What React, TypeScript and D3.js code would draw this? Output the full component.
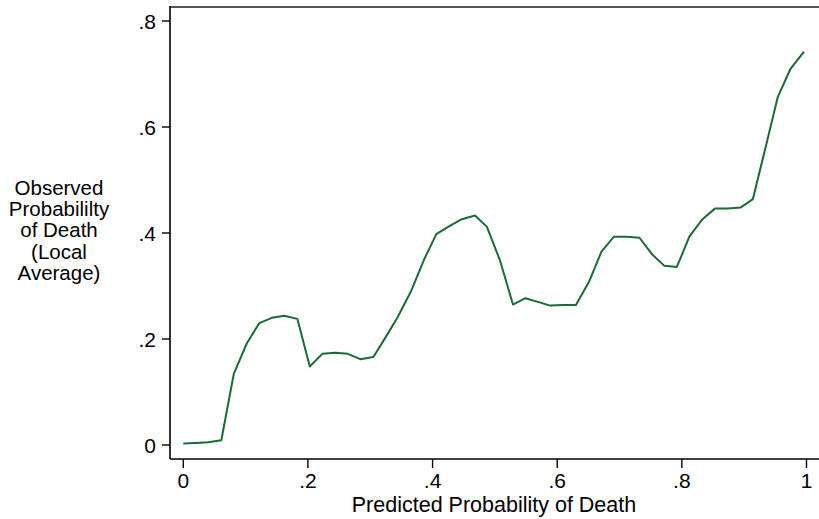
import React from "react";
import * as d3 from "d3";

const predicted = [
  0.0, 0.02, 0.04, 0.061, 0.081, 0.102, 0.122, 0.142, 0.162, 0.183,
  0.203, 0.223, 0.244, 0.264, 0.284, 0.305, 0.325, 0.343, 0.365, 0.386,
  0.406, 0.427, 0.447, 0.468, 0.487, 0.508, 0.529, 0.549, 0.569, 0.589,
  0.609, 0.63, 0.651, 0.671, 0.691, 0.711, 0.732, 0.752, 0.772, 0.792,
  0.812, 0.833, 0.853, 0.874, 0.894, 0.914, 0.934, 0.954, 0.974, 0.996,
];
const observed = [
  0.003, 0.004, 0.005, 0.009, 0.134, 0.192, 0.23, 0.24, 0.244, 0.238,
  0.148, 0.172, 0.174, 0.172, 0.162, 0.166, 0.204, 0.239, 0.289, 0.349,
  0.398, 0.413, 0.426, 0.433, 0.412, 0.349, 0.265, 0.277, 0.27, 0.263,
  0.264, 0.264, 0.308, 0.365, 0.393, 0.393, 0.391, 0.36, 0.338, 0.336,
  0.393, 0.426, 0.446, 0.446, 0.448, 0.464, 0.56, 0.657, 0.709, 0.742,
];
const xTicks = [0, 0.2, 0.4, 0.6, 0.8, 1];
const yTicks = [0, 0.2, 0.4, 0.6, 0.8];
const yTitleLines = ["Observed", "Probabililty", "of Death", "(Local", "Average)"];
const xTitle = "Predicted Probability of Death";

const fmt = (v: number) => (v === 0 ? "0" : v === 1 ? "1" : d3.format(".1f")(v).replace(/^0/, ""));

export default function App() {
  const W = 819, H = 519;
  const frameL = 170, frameR = 820, frameT = 7, frameB = 459;
  const x = d3.scaleLinear().domain([0, 1]).range([183.3, 806.5]);
  const y = d3.scaleLinear().domain([0, 0.8]).range([445, 21]);
  const pts: [number, number][] = predicted.map((p, i) => [p, observed[i]]);
  const line = d3.line<[number, number]>().x(d => x(d[0])).y(d => y(d[1]));
  const font = "'Liberation Sans', Arial, Helvetica, sans-serif";
  return (
    <svg width={W} height={H} style={{ position: "absolute", left: 0, top: 0, background: "#fff" }} fontFamily={font}>
      <rect x={0} y={0} width={W} height={H} fill="#fff" />
      {/* frame */}
      <line x1={frameL} x2={frameR} y1={frameT} y2={frameT} stroke="#555" strokeWidth={2} />
      <line x1={frameL} x2={frameL} y1={frameT - 1} y2={frameB} stroke="#000" strokeWidth={1.6} />
      <line x1={frameL} x2={frameR} y1={frameB} y2={frameB} stroke="#000" strokeWidth={1.6} />
      {/* y axis */}
      {yTicks.map(t => (
        <g key={"y" + t}>
          <line x1={frameL - 8} x2={frameL} y1={y(t)} y2={y(t)} stroke="#000" strokeWidth={1.4} />
          <text x={frameL - 14} y={y(t)} dy="0.36em" textAnchor="end" fontSize={21} fill="#000">{fmt(t)}</text>
        </g>
      ))}
      {/* x axis */}
      {xTicks.map(t => (
        <g key={"x" + t}>
          <line x1={x(t)} x2={x(t)} y1={frameB} y2={frameB + 9} stroke="#000" strokeWidth={1.4} />
          <text x={x(t)} y={frameB + 29} textAnchor="middle" fontSize={21} fill="#000">{fmt(t)}</text>
        </g>
      ))}
      <text x={494} y={512} textAnchor="middle" fontSize={21.5} fill="#000">{xTitle}</text>
      {yTitleLines.map((s, i) => (
        <text key={s} x={59} y={195 + i * 21.2} textAnchor="middle" fontSize={20.5} fill="#000">{s}</text>
      ))}
      <path d={line(pts) || ""} fill="none" stroke="#1b6b35" strokeWidth={2} strokeLinejoin="round" />
    </svg>
  );
}
